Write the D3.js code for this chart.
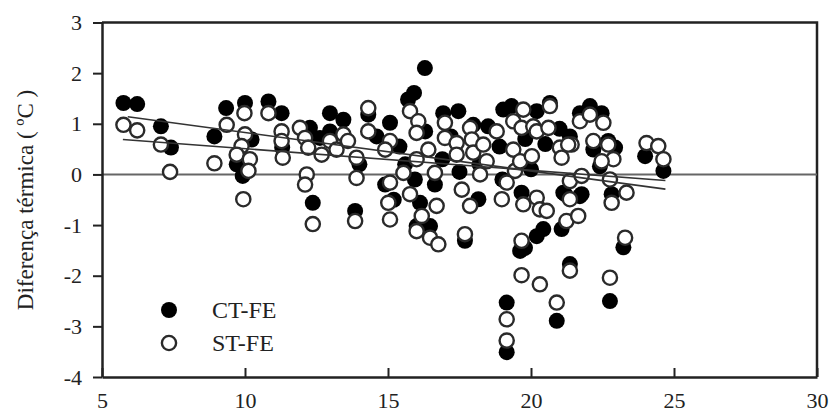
<!DOCTYPE html>
<html>
<head>
<meta charset="utf-8">
<script src="https://cdn.jsdelivr.net/npm/d3@7"></script>
<style>
  body { margin: 0; background: #fff; }
</style>
</head>
<body>
<script>
var width = 830, height = 414;
var serif = "'Liberation Serif', 'Times New Roman', Times, serif";

// pontos (temperatura do ar, diferença térmica)
var ctFe = [
  [5.75,1.41],[6.23,1.39],[7.06,0.95],[7.41,0.53],[8.93,0.75],[9.34,1.31],[10.0,1.41],[9.71,0.20],
  [9.92,-0.03],[10.23,0.69],[10.82,1.44],[11.28,1.21],[11.3,0.53],[12.37,-0.56],[12.27,0.92],
  [12.62,0.72],[12.97,1.21],[12.97,0.85],[13.44,1.08],[13.85,-0.72],
  [16.29,2.10],[15.91,1.61],[15.7,1.48],[14.31,1.18],[15.07,1.02],[16.93,1.21],[17.46,1.25],
  [17.98,0.98],[19.03,1.28],[19.32,1.35],[20.2,1.25],[20.66,1.41],[21.71,1.21],[22.06,1.35],
  [21.36,0.75],[14.9,-0.2],[15.94,-0.1],[16.64,-0.2],[16.12,-0.56],[16.47,-1.02],[16.0,-1.02],
  [17.69,-1.31],[18.16,-0.49],[19.67,-0.36],[19.62,-1.51],[20.2,-1.22],[20.43,-1.08],[19.79,-1.45],
  [21.13,-0.36],[21.71,-0.43],[21.07,-1.08],
  [14.6,0.75],[15.4,0.55],[16.3,0.85],[17.2,0.75],[18.5,0.95],[18.9,0.55],[19.8,0.7],[20.5,0.6],
  [21.0,0.9],[15.6,0.2],[16.9,0.3],[18.2,0.2],[19.0,-0.1],[20.0,0.1],[17.5,0.05],[14.0,0.2],[15.2,-0.5],
  [22.47,1.21],[22.18,0.49],[22.7,0.66],[22.94,0.53],[22.41,0.16],[23.99,0.36],[24.63,0.07],
  [21.19,-0.39],[21.77,-0.39],[22.82,-0.39],[23.23,-1.44],
  [19.15,-2.53],[19.15,-3.51],[20.9,-2.89],[21.36,-1.77],[22.76,-2.5]
];

var stFe = [
  [5.75,0.98],[6.23,0.87],[7.06,0.59],[7.38,0.05],[8.93,0.22],[9.36,0.98],[9.98,1.21],[10.0,0.79],
  [9.88,0.56],[9.71,0.39],[10.17,0.30],[10.12,0.07],[9.94,-0.49],[10.82,1.21],[11.28,0.85],
  [11.28,0.66],[11.32,0.33],[11.92,0.92],[12.1,0.72],[12.16,0.0],[12.1,-0.2],[12.37,-0.98],
  [12.21,0.53],[12.68,0.39],[12.97,0.66],[13.2,0.49],[13.44,0.79],[13.6,0.66],[13.9,0.33],
  [13.9,-0.07],[13.85,-0.92],
  [14.31,1.31],[14.31,0.85],[15.07,0.66],[14.9,0.49],[15.77,1.25],[16.06,1.05],[16.0,0.82],
  [16.41,0.49],[16.0,0.30],[15.54,0.03],[15.07,-0.16],[15.01,-0.56],[15.07,-0.89],[15.77,-0.39],
  [16.7,-0.62],[16.18,-0.82],[16.0,-1.12],[16.47,-1.25],[16.76,-1.38],[16.64,0.03],[16.99,0.72],
  [16.99,1.02],[17.4,0.62],[17.4,0.39],[17.87,0.92],[17.93,0.69],[17.98,0.43],[17.58,-0.3],
  [17.87,-0.62],[17.69,-1.18],[18.33,0.59],[18.8,0.85],[18.45,0.26],[18.22,0.0],[18.98,-0.49],
  [19.15,-0.16],[19.38,1.05],[19.38,0.49],[19.44,0.07],[19.62,0.26],[19.67,0.92],[19.73,1.28],
  [20.03,0.36],[20.08,0.95],[20.2,0.85],[19.73,-0.59],[20.2,-0.46],[20.31,-0.69],[20.55,-0.72],
  [19.67,-1.31],[20.66,1.35],[20.61,0.92],[21.01,0.53],[21.07,0.33],[21.42,0.59],[21.36,-0.13],
  [21.24,-0.92],[21.65,-0.82],[21.71,1.05],[22.06,1.18],
  [22.53,1.02],[21.3,0.59],[22.18,0.66],[22.7,0.59],[22.88,0.30],[22.47,0.26],[21.77,-0.03],
  [24.04,0.62],[24.45,0.56],[24.63,0.30],[22.76,-0.1],[23.34,-0.36],[22.82,-0.56],[21.36,-0.49],
  [23.29,-1.25],
  [19.67,-1.99],[20.31,-2.17],[21.36,-1.9],[20.9,-2.53],[19.15,-2.86],[19.15,-3.28],[22.76,-2.04]
];

// retas de regressão (extremos)
var ctFit = [[5.9,1.14],[24.7,-0.29]];
var stFit = [[5.73,0.69],[24.7,-0.12]];

var xTicks = [5, 10, 15, 20, 25, 30];
var yTicks = [-4, -3, -2, -1, 0, 1, 2, 3];
var legendLabels = ["CT-FE", "ST-FE"];
var yTitle = "Diferença térmica ( ºC )";

var svg = d3.select("body").append("svg")
    .attr("width", width)
    .attr("height", height)
    .style("font-family", serif);

var x = d3.scaleLinear().domain([5, 30]).range([102, 817]);
var y = d3.scaleLinear().domain([-4, 3]).range([377, 22.5]);

// moldura (topo e direita)
svg.append("path")
    .attr("d", "M" + x(5) + "," + y(3) + "H" + x(30) + "V" + y(-4))
    .attr("fill", "none")
    .attr("stroke", "#222")
    .attr("stroke-width", 2.5);

// linha do zero
svg.append("line")
    .attr("x1", x(5)).attr("x2", x(30))
    .attr("y1", y(0)).attr("y2", y(0))
    .attr("stroke", "#666")
    .attr("stroke-width", 2);

var line = d3.line().x(d => x(d[0])).y(d => y(d[1]));

// pontos cheios primeiro, abertos por cima
svg.append("g").selectAll("circle")
    .data(ctFe).enter().append("circle")
    .attr("cx", d => x(d[0])).attr("cy", d => y(d[1]))
    .attr("r", 8)
    .attr("fill", "#000");

svg.append("g").selectAll("circle")
    .data(stFe).enter().append("circle")
    .attr("cx", d => x(d[0])).attr("cy", d => y(d[1]))
    .attr("r", 7.1)
    .attr("fill", "#fff")
    .attr("stroke", "#2a2a2a")
    .attr("stroke-width", 2.4);

[ctFit, stFit].forEach(function(f) {
  svg.append("path").datum(f)
      .attr("d", line)
      .attr("fill", "none")
      .attr("stroke", "#333")
      .attr("stroke-width", 1.6);
});

// eixos (hífen simples como sinal negativo)
var fmt = function(d) { return String(d); };
var xAxis = svg.append("g")
    .attr("transform", "translate(0," + y(-4) + ")")
    .call(d3.axisBottom(x).tickValues(xTicks).tickFormat(fmt)
      .tickSizeInner(-9).tickSizeOuter(0).tickPadding(15));
var yAxis = svg.append("g")
    .attr("transform", "translate(" + x(5) + ",0)")
    .call(d3.axisLeft(y).tickValues(yTicks).tickFormat(fmt)
      .tickSizeInner(9).tickSizeOuter(0).tickPadding(11));

[xAxis, yAxis].forEach(function(a) {
  a.attr("font-family", null);
  a.select(".domain").attr("stroke", "#222").attr("stroke-width", 2.5);
  a.selectAll(".tick line").attr("stroke", "#222").attr("stroke-width", 2);
  a.selectAll("text")
      .style("font-family", serif)
      .style("font-size", "22px")
      .attr("fill", "#222");
});

svg.append("text")
    .attr("transform", "translate(33,200) rotate(-90)")
    .attr("text-anchor", "middle")
    .style("font-family", serif)
    .style("font-size", "23px")
    .attr("fill", "#222")
    .text(yTitle);

// legenda
var leg = svg.append("g");
legendLabels.forEach(function(lbl, i) {
  var cy = 310 + i * 33;
  leg.append("circle")
      .attr("cx", 169).attr("cy", cy)
      .attr("r", i === 0 ? 8 : 7.1)
      .attr("fill", i === 0 ? "#000" : "#fff")
      .attr("stroke", i === 0 ? "none" : "#2a2a2a")
      .attr("stroke-width", 2.4);
  leg.append("text")
      .attr("x", 212).attr("y", cy + 8)
      .style("font-family", serif)
      .style("font-size", "24px")
      .attr("fill", "#222")
      .text(lbl);
});
</script>
</body>
</html>
